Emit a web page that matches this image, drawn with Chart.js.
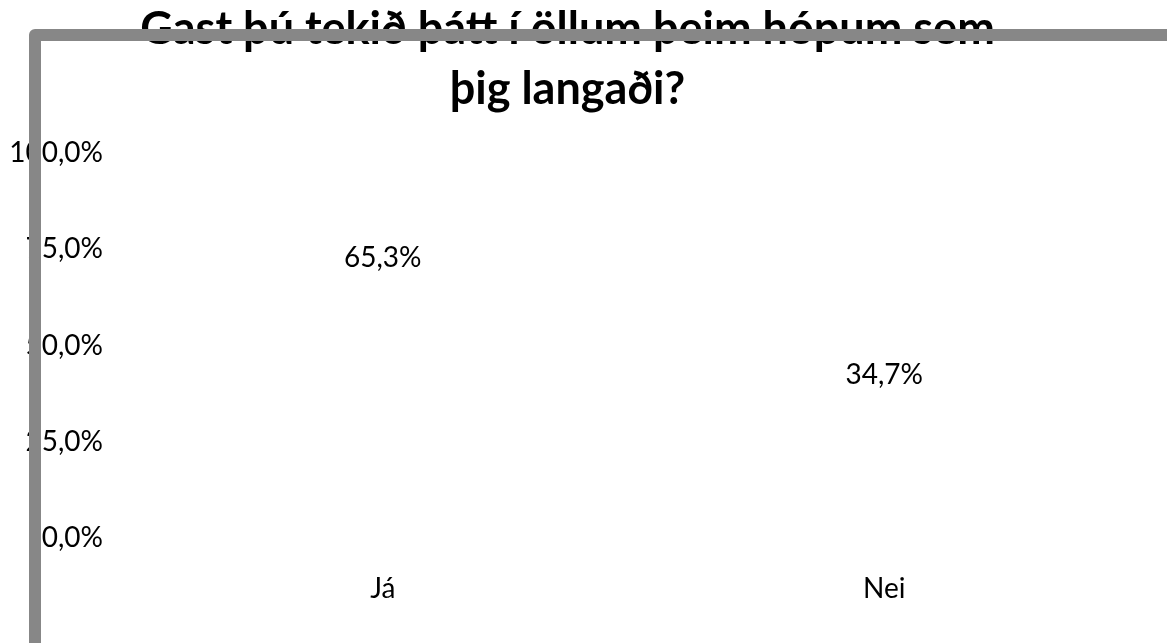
<!DOCTYPE html>
<html>
<head>
<meta charset="utf-8">
<script src="https://cdn.jsdelivr.net/npm/chart.js@4/dist/chart.umd.min.js"></script>
<style>
  html, body { margin: 0; padding: 0; background: #ffffff; }
  #wrap { width: 1167px; height: 643px; position: relative; }
</style>
</head>
<body>
<div id="wrap"><canvas id="c" width="1167" height="643"></canvas></div>
<script>
const titleLines = ['Gast þú tekið þátt í öllum þeim hópum sem', 'þig langaði?'];
const categories = ['Já', 'Nei'];
const values = [65.3, 34.7];
const valueLabels = ['65,3%', '34,7%'];
const yTicks = [0, 25, 50, 75, 100];
const yTickLabels = ['0,0%', '25,0%', '50,0%', '75,0%', '100,0%'];

const FONT = 'Lato, "Open Sans", sans-serif';

const dataLabelPlugin = {
  id: 'dataLabels',
  afterDatasetsDraw(chart) {
    const ctx = chart.ctx;
    const meta = chart.getDatasetMeta(0);
    ctx.save();
    ctx.font = '28px ' + FONT;
    ctx.fillStyle = '#000000';
    ctx.textAlign = 'center';
    ctx.textBaseline = 'middle';
    meta.data.forEach((bar, i) => {
      ctx.fillText(valueLabels[i], bar.x, bar.y - 29);
    });
    ctx.restore();
  }
};

const frameBorderPlugin = {
  id: 'frameBorder',
  afterDraw(chart) {
    const ctx = chart.ctx;
    ctx.save();
    ctx.strokeStyle = '#878787';
    ctx.lineWidth = 12;
    ctx.lineJoin = 'round';
    ctx.beginPath();
    ctx.moveTo(35, chart.height + 20);
    ctx.lineTo(35, 35);
    ctx.lineTo(chart.width + 20, 35);
    ctx.stroke();
    ctx.restore();
  }
};

new Chart(document.getElementById('c'), {
  type: 'bar',
  data: {
    labels: categories,
    datasets: [{
      data: values,
      backgroundColor: 'rgba(0,0,0,0)',
      borderWidth: 0
    }]
  },
  options: {
    responsive: false,
    animation: false,
    devicePixelRatio: 1,
    layout: { padding: { left: 0, right: 32, top: 0, bottom: 0 } },
    plugins: {
      legend: { display: false },
      tooltip: { enabled: false },
      title: {
        display: true,
        text: titleLines,
        color: '#000000',
        font: { family: FONT, size: 45, weight: 'bold', lineHeight: 1.322 },
        padding: { top: 0, bottom: 34 }
      }
    },
    scales: {
      x: {
        grid: { display: false, drawTicks: false },
        border: { display: false },
        ticks: { color: '#000000', font: { family: FONT, size: 28 }, padding: 34 },
        afterFit(scale) { scale.height = 105; }
      },
      y: {
        min: 0,
        max: 100,
        afterBuildTicks(scale) { scale.ticks = yTicks.map(v => ({ value: v })); },
        grid: { display: false, drawTicks: false },
        border: { display: false },
        ticks: {
          color: '#000000',
          font: { family: FONT, size: 28 },
          padding: 29,
          callback(value) { return yTickLabels[yTicks.indexOf(value)]; }
        },
        afterFit(scale) { scale.width = 132; }
      }
    }
  },
  plugins: [dataLabelPlugin, frameBorderPlugin]
});
</script>
</body>
</html>
